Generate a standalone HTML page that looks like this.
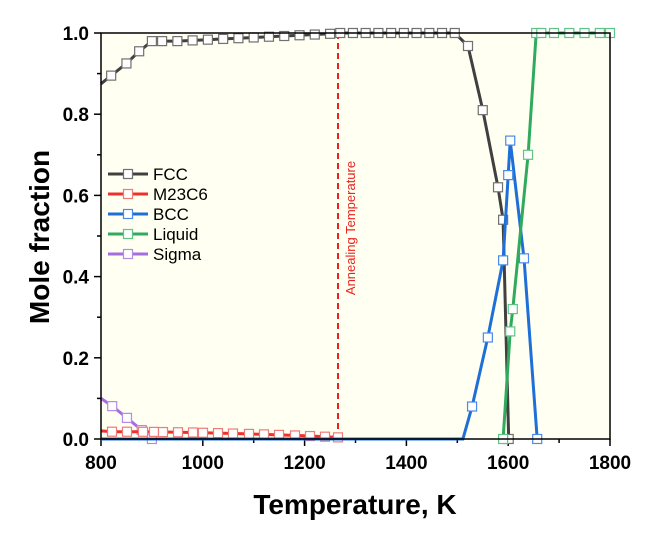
<!DOCTYPE html>
<html><head><meta charset="utf-8"><style>
body{margin:0;background:#fff}
svg{display:block;font-family:"Liberation Sans",Arial,sans-serif}
</style></head><body>
<svg id="s" width="657" height="536" xmlns="http://www.w3.org/2000/svg">
<rect x="101" y="33" width="509" height="406" fill="#fffff2"/>
<g id="g"></g>
<rect x="101" y="33" width="509" height="406" fill="none" stroke="#000" stroke-width="1.5"/>
<text transform="translate(49,237) rotate(-90)" text-anchor="middle" font-size="28" font-weight="bold">Mole fraction</text>
<text x="355" y="514" text-anchor="middle" font-size="28" font-weight="bold">Temperature, K</text>
<text transform="translate(355,228) rotate(-90)" text-anchor="middle" font-size="13" fill="#e8231f">Annealing Temperature</text>
</svg>
<script>
const g=document.getElementById('g');
const X=t=>101+(t-800)*0.509, Y=v=>439-v*406;
let h='';
for(let t=800;t<=1800;t+=100){const x=X(t),big=t%200==0;h+=`<line x1="${x}" y1="439" x2="${x}" y2="${big?446:443}" stroke="#000" stroke-width="1.5"/>`;if(big)h+=`<text x="${x}" y="469" text-anchor="middle" font-size="19" font-weight="bold">${t}</text>`;}
for(let i=0;i<=10;i++){const v=i/10,y=Y(v),big=i%2==0;h+=`<line x1="101" y1="${y}" x2="${big?94:97}" y2="${y}" stroke="#000" stroke-width="1.5"/>`;if(big)h+=`<text x="89" y="${y+7}" text-anchor="end" font-size="19" font-weight="bold">${v.toFixed(1)}</text>`;}
h+=`<line x1="338" y1="33" x2="338" y2="439" stroke="#e8231f" stroke-width="2" stroke-dasharray="6,4"/>`;
function series(pts,col,mcol,mk){let d=pts.map((p,i)=>(i?'L':'M')+X(p[0]).toFixed(1)+','+Y(p[1]).toFixed(1)).join('');h+=`<path d="${d}" fill="none" stroke="${col}" stroke-width="3"/>`;(mk||pts).forEach(p=>{h+=`<rect x="${X(p[0])-4.5}" y="${Y(p[1])-4.5}" width="9" height="9" fill="#fff" stroke="${mcol}" stroke-width="1.2"/>`;});}
let sg=[[822,0.081],[851,0.052],[880,0.022],[900,0]];
series([[800,0.1]].concat(sg),'#a46ee0','#b58be8',sg);
let mx=[112,127,143,154,163,178,193,203,218,233,249,264,279,295,310,325,338];
let m=mx.map((x,i)=>[(x-101)/0.509+800,0.018-0.014*Math.pow(i/16,2)]);
series([[800,0.02]].concat(m).concat([[1275,0]]),'#f0302b','#f07a77',m);
let f=[[820,0.895],[850,0.925],[875,0.955],[900,0.98],[920,0.98]];
for(let t=950;t<=1250;t+=30)f.push([t,0.98+0.018*(t-950)/300]);
for(let t=1270;t<=1500;t+=25)f.push([t,1]);
f=f.concat([[1521,0.968],[1550,0.81],[1580,0.62],[1590,0.54],[1601,0]]);
series([[800,0.875]].concat(f),'#404040','#707070',f);
let b=[[1529,0.08],[1560,0.25],[1590,0.44],[1600,0.65],[1604,0.735],[1631,0.445],[1657,0]];
series([[800,0],[1511,0]].concat(b),'#1f6fd8','#4a8ae8',b);
let l=[[1590,0],[1604,0.265],[1609,0.32],[1639,0.70],[1655,1],[1665,1],[1690,1],[1720,1],[1750,1],[1780,1],[1800,1]];
series(l,'#2faa5e','#5fc485');
const leg=[['FCC','#404040','#707070'],['M23C6','#f0302b','#f07a77'],['BCC','#1f6fd8','#4a8ae8'],['Liquid','#2faa5e','#5fc485'],['Sigma','#a46ee0','#b58be8']];
leg.forEach((e,i)=>{const y=174+i*20;h+=`<line x1="108" y1="${y}" x2="148" y2="${y}" stroke="${e[1]}" stroke-width="3"/><rect x="123.5" y="${y-4.5}" width="9" height="9" fill="#fff" stroke="${e[2]}" stroke-width="1.2"/><text x="153" y="${y+6}" font-size="17">${e[0]}</text>`;});
g.innerHTML=h;
</script>
</body></html>
